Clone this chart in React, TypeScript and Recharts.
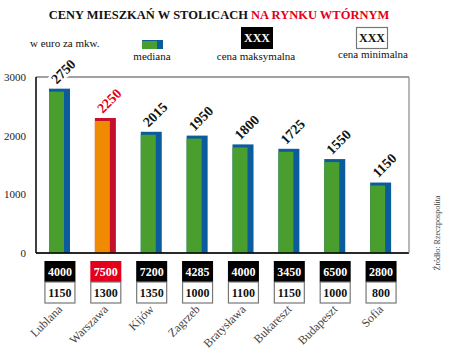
import { BarChart, Bar, XAxis, YAxis, CartesianGrid } from 'recharts';

const cities = ['Lublana', 'Warszawa', 'Kijów', 'Zagrzeb', 'Bratysława', 'Bukareszt', 'Budapeszt', 'Sofia'];
const medianPrice = [2750, 2250, 2015, 1950, 1800, 1725, 1550, 1150];
const maxPrice = [4000, 7500, 7200, 4285, 4000, 3450, 6500, 2800];
const minPrice = [1150, 1300, 1350, 1000, 1100, 1150, 1000, 800];
const yTicks = [0, 1000, 2000, 3000];
const highlight = 'Warszawa';

const data = cities.map((city, i) => ({
  city,
  median: medianPrice[i],
  max: maxPrice[i],
  min: minPrice[i],
}));

const SERIF = '"Liberation Serif", "DejaVu Serif", serif';
const GREEN = '#4a9e2e';
const BLUE = '#0b5c9c';
const ORANGE = '#f08a00';
const RED = '#c4102c';
const BRIGHT_RED = '#e3001b';

const BarShape = (props: any) => {
  const { x, y, width, height, payload } = props;
  const hot = payload.city === highlight;
  const side = 6;
  const cap = 3;
  const cx = x + width / 2;
  const lx = cx + 4;
  const ly = y - cap - 17;
  return (
    <g>
      <rect x={x} y={y - cap} width={width} height={height + cap} fill={hot ? RED : BLUE} />
      <rect x={x} y={y} width={width - side} height={height} fill={hot ? ORANGE : GREEN} />
      <text
        x={lx}
        y={ly}
        transform={`rotate(-45 ${lx} ${ly})`}
        textAnchor="middle"
        dominantBaseline="central"
        fontFamily={SERIF}
        fontWeight="bold"
        fontSize={14}
        fill={hot ? BRIGHT_RED : '#111'}
        stroke="#fff"
        strokeWidth={5}
        paintOrder="stroke"
      >
        {payload.median}
      </text>
    </g>
  );
};

const CityTick = (props: any) => {
  const { x, payload } = props;
  const i = cities.indexOf(payload.value);
  const hot = payload.value === highlight;
  const w = 31;
  const top = 261;
  const tx = x + 3;
  const ty = 310;
  return (
    <g>
      <rect x={x - w / 2} y={top} width={w} height={21} fill={hot ? BRIGHT_RED : '#000'} />
      <text x={x} y={top + 15} textAnchor="middle" fontFamily={SERIF} fontWeight="bold" fontSize={12} fill="#fff">
        {maxPrice[i]}
      </text>
      <rect x={x - w / 2 + 0.5} y={top + 21} width={w - 1} height={21} fill="#fff" stroke="#777" strokeWidth={1.2} />
      <text x={x} y={top + 36} textAnchor="middle" fontFamily={SERIF} fontWeight="bold" fontSize={12} fill="#111">
        {minPrice[i]}
      </text>
      <text
        x={tx}
        y={ty}
        transform={`rotate(-45 ${tx} ${ty})`}
        textAnchor="end"
        fontFamily={SERIF}
        fontSize={12}
        fill="#444"
      >
        {payload.value}
      </text>
    </g>
  );
};

export default function App() {
  return (
    <div style={{ position: 'absolute', left: 0, top: 0, width: 450, height: 357, background: '#fff' }}>
      <BarChart
        width={450}
        height={357}
        data={data}
        margin={{ top: 77, right: 40, bottom: 74, left: 0 }}
        barSize={21}
      >
        <CartesianGrid vertical={false} stroke="#444" strokeWidth={1.2} />
        <XAxis
          dataKey="city"
          interval={0}
          tickLine={false}
          axisLine={{ stroke: '#000', strokeWidth: 1.5 }}
          padding={{ left: 1, right: 5 }}
          tick={<CityTick />}
          height={30}
        />
        <YAxis
          yAxisId="left"
          domain={[0, 3000]}
          ticks={yTicks}
          width={36}
          tickLine={false}
          tickMargin={4}
          axisLine={{ stroke: '#000', strokeWidth: 1.5 }}
          tick={{ fill: '#222', fontSize: 11, fontFamily: SERIF }}
        />
        <YAxis
          yAxisId="right"
          orientation="right"
          domain={[0, 3000]}
          width={1}
          tick={false}
          tickLine={false}
          axisLine={{ stroke: '#888', strokeWidth: 1.2 }}
        />
        <Bar yAxisId="left" dataKey="median" shape={<BarShape />} isAnimationActive={false} />
      </BarChart>
      <svg width={450} height={357} style={{ position: 'absolute', left: 0, top: 0, pointerEvents: 'none' }}>
        <text x={219} y={19} textAnchor="middle" fontFamily={SERIF} fontWeight="bold" fontSize={12.5}>
          <tspan fill="#111">CENY MIESZKAŃ W STOLICACH </tspan>
          <tspan fill={BRIGHT_RED}>NA RYNKU WTÓRNYM</tspan>
        </text>
        <text x={30} y={47} fontFamily={SERIF} fontSize={11} fill="#111">w euro za mkw.</text>

        <rect x={142} y={40} width={21} height={9} fill={BLUE} />
        <rect x={142} y={41} width={15} height={8} fill={GREEN} />
        <text x={152} y={60} textAnchor="middle" fontFamily={SERIF} fontSize={11} fill="#111">mediana</text>

        <rect x={241} y={27} width={32} height={22} fill="#000" />
        <text x={257} y={42} textAnchor="middle" fontFamily={SERIF} fontWeight="bold" fontSize={12} fill="#fff">XXX</text>
        <text x={256} y={60} textAnchor="middle" fontFamily={SERIF} fontSize={11} fill="#111">cena maksymalna</text>

        <rect x={356.5} y={27.5} width={31} height={21} fill="#fff" stroke="#777" strokeWidth={1.2} />
        <text x={372} y={42} textAnchor="middle" fontFamily={SERIF} fontWeight="bold" fontSize={12} fill="#111">XXX</text>
        <text x={373} y={58} textAnchor="middle" fontFamily={SERIF} fontSize={11} fill="#111">cena minimalna</text>

        <text
          x={440}
          y={233}
          transform="rotate(-90 440 233)"
          textAnchor="middle"
          fontFamily={SERIF}
          fontSize={8}
          fill="#444"
        >
          Źródło: Rzeczpospolita
        </text>
      </svg>
    </div>
  );
}
